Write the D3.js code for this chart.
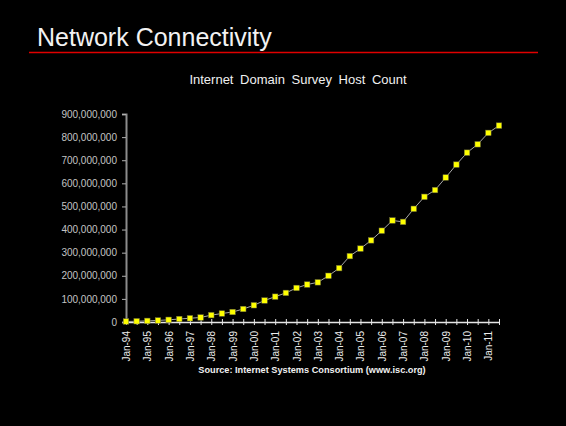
<!DOCTYPE html>
<html>
<head>
<meta charset="utf-8">
<script src="https://cdn.jsdelivr.net/npm/d3@7"></script>
<style>
    body { margin: 0; background: #000; }
    svg { display: block; font-family: "Liberation Sans", Arial, sans-serif; }
</style>
</head>
<body>
<svg></svg>
<script>
// half-yearly survey points, Jan-94 .. Jul-11
var periods = ["Jan-94", "Jul-94", "Jan-95", "Jul-95", "Jan-96", "Jul-96",
    "Jan-97", "Jul-97", "Jan-98", "Jul-98", "Jan-99", "Jul-99",
    "Jan-00", "Jul-00", "Jan-01", "Jul-01", "Jan-02", "Jul-02",
    "Jan-03", "Jul-03", "Jan-04", "Jul-04", "Jan-05", "Jul-05",
    "Jan-06", "Jul-06", "Jan-07", "Jul-07", "Jan-08", "Jul-08",
    "Jan-09", "Jul-09", "Jan-10", "Jul-10", "Jan-11", "Jul-11"];

var hostCounts = [2217000, 3212000, 4852000, 6642000, 9472000, 12881000,
    16146000, 19540000, 29670000, 36739000, 43230000, 56218000,
    72398000, 93048000, 109574000, 125888000, 147345000, 162128000,
    171638000, 200000000, 233101000, 285139000, 317646000, 353284000,
    394992000, 439286000, 433193000, 489774000, 541677000, 570938000,
    625226000, 681065000, 732740000, 768913000, 818374000, 849870000];

var yTicks = [0, 100000000, 200000000, 300000000, 400000000,
    500000000, 600000000, 700000000, 800000000, 900000000];

var slideTitle = "Network Connectivity";
var chartTitle = "Internet Domain Survey Host Count";
var sourceNote = "Source: Internet Systems Consortium (www.isc.org)";


var svg = d3.select("svg")
    .attr("width", 566)
    .attr("height", 426);

svg.append("rect")
    .attr("width", 566)
    .attr("height", 426)
    .attr("fill", "#000");

// slide heading + red rule
svg.append("text")
    .attr("x", 37)
    .attr("y", 46)
    .attr("fill", "#f2f2f2")
    .attr("font-size", "25px")
    .text(slideTitle);

svg.append("line")
    .attr("x1", 29).attr("x2", 538)
    .attr("y1", 52.5).attr("y2", 52.5)
    .attr("stroke", "#e00000")
    .attr("stroke-width", 1.5);

svg.append("text")
    .attr("x", 298)
    .attr("y", 84)
    .attr("text-anchor", "middle")
    .attr("fill", "#f0f0f0")
    .attr("font-size", "13px")
    .attr("word-spacing", "3px")
    .text(chartTitle);


///////////////////////////////////////////////////////
// scales
var x = d3.scalePoint().domain(periods).range([126, 499]);
var y = d3.scaleLinear().domain([0, 900000000]).range([322, 114]);

// y axis
var yAxis = svg.append("g")
    .attr("transform", "translate(126,0)")
    .call(d3.axisLeft(y)
        .tickValues(yTicks)
        .tickFormat(d3.format(","))
        .tickSize(4)
        .tickPadding(5));

yAxis.select(".domain")
    .attr("stroke", "#8c8c8c")
    .attr("stroke-width", 2);
yAxis.selectAll(".tick line")
    .attr("stroke", "#b0b0b0");
yAxis.selectAll(".tick text")
    .attr("fill", "#c4c4c4")
    .attr("font-size", "10px")
    .attr("font-family", "Liberation Sans, Arial, sans-serif");

// x axis - a tick per survey, label on January only
var xAxis = svg.append("g")
    .attr("transform", "translate(0,322)")
    .call(d3.axisBottom(x)
        .tickFormat(d => d.startsWith("Jan") ? d : "")
        .tickSizeOuter(0));

xAxis.select(".domain")
    .attr("stroke", "#e6e6e6")
    .attr("stroke-width", 1.5);
xAxis.selectAll(".tick line")
    .attr("stroke", "#e6e6e6")
    .attr("y1", -3)
    .attr("y2", 3);
xAxis.selectAll(".tick text")
    .attr("fill", "#ececec")
    .attr("font-size", "10px")
    .attr("font-family", "Liberation Sans, Arial, sans-serif")
    .attr("transform", "rotate(-90)")
    .attr("text-anchor", "end")
    .attr("x", -9)
    .attr("y", 0)
    .attr("dy", "0.35em");

svg.append("text")
    .attr("x", 312)
    .attr("y", 373)
    .attr("text-anchor", "middle")
    .attr("fill", "#f0f0f0")
    .attr("font-size", "9.2px")
    .attr("font-weight", "bold")
    .text(sourceNote);


///////////////////////////////////////////////////////
// series line + square markers
var data = periods.map((p, i) => ({period: p, value: hostCounts[i]}));

var line = d3.line()
    .x(d => x(d.period))
    .y(d => y(d.value));

svg.append("path")
    .datum(data)
    .attr("d", line)
    .attr("fill", "none")
    .attr("stroke", "#a8a8a8")
    .attr("stroke-width", 1);

svg.append("g")
    .selectAll("rect")
    .data(data)
    .enter()
    .append("rect")
    .attr("x", d => x(d.period) - 2.75)
    .attr("y", d => y(d.value) - 2.75)
    .attr("width", 5.5)
    .attr("height", 5.5)
    .attr("fill", "#ffff00")
    .attr("stroke", "#6e6e3a")
    .attr("stroke-width", 0.5);
</script>
</body>
</html>
